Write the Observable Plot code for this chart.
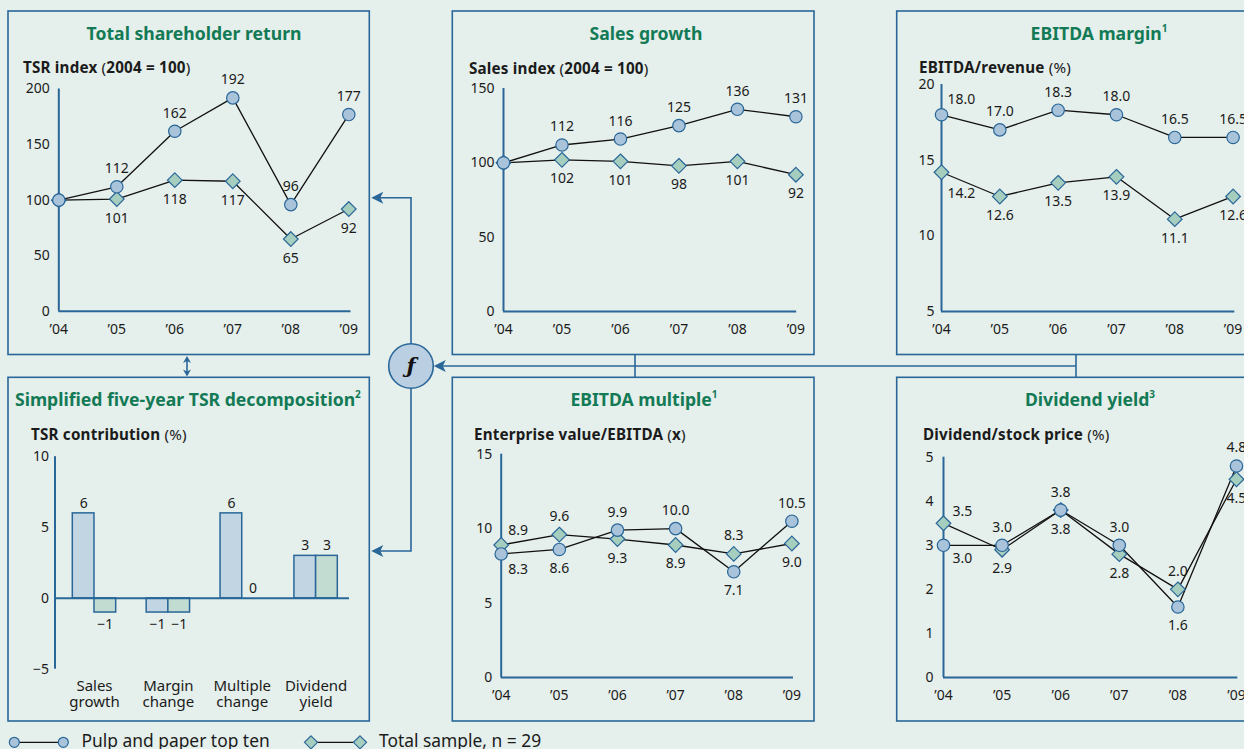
<!DOCTYPE html>
<html>
<head>
<meta charset="utf-8">
<script src="https://cdn.jsdelivr.net/npm/d3@7"></script>
<script src="https://cdn.jsdelivr.net/npm/@observablehq/plot@0.6"></script>
<style>
  html, body { margin: 0; padding: 0; background: #e5efeb; }
  #root { position: relative; width: 1244px; height: 749px; overflow: hidden; background: #e5efeb;
          font-family: "Noto Sans", "Open Sans", sans-serif; color: #1b1b1b; }
  .title { position: absolute; transform: translate(-50%, -50%); white-space: nowrap;
           font-weight: 700; font-size: 17.6px; color: #137a56; }
  .title.left { transform: translate(0, -50%); }
  .title sup { font-size: 10px; vertical-align: 8px; line-height: 0; }
  .sub { position: absolute; transform: translate(0, -50%); white-space: nowrap;
         font-weight: 700; font-size: 15.2px; letter-spacing: 0.2px; color: #1b1b1b; }
  .sub .n { font-weight: 400; }
  #root svg.plotsvg { position: absolute; }
</style>
</head>
<body>
<div id="root">
  <svg id="overlay" width="1244" height="749" style="position:absolute;left:0;top:0"></svg>
  <div class="title" style="left:194px;top:33px">Total shareholder return</div>
  <div class="title" style="left:646px;top:33px">Sales growth</div>
  <div class="title" style="left:1099px;top:33px">EBITDA margin<sup>1</sup></div>
  <div class="title left" style="left:15px;top:399px">Simplified five-year TSR decomposition<sup>2</sup></div>
  <div class="title" style="left:644px;top:399px">EBITDA multiple<sup>1</sup></div>
  <div class="title" style="left:1090px;top:399px">Dividend yield<sup>3</sup></div>
  <div class="sub" style="left:23px;top:67px">TSR index <span class="n">(</span>2004 = 100<span class="n">)</span></div>
  <div class="sub" style="left:469px;top:68px">Sales index <span class="n">(</span>2004 = 100<span class="n">)</span></div>
  <div class="sub" style="left:919px;top:67px">EBITDA/revenue <span class="n">(%)</span></div>
  <div class="sub" style="left:31px;top:434px">TSR contribution <span class="n">(%)</span></div>
  <div class="sub" style="left:474px;top:434px">Enterprise value/EBITDA <span class="n">(</span>x<span class="n">)</span></div>
  <div class="sub" style="left:923px;top:434px">Dividend/stock price <span class="n">(%)</span></div>
</div>
<script>
// ---------------- DATA ----------------
const years = [2004, 2005, 2006, 2007, 2008, 2009];
const tsrPulp = [100, 112, 162, 192, 96, 177];
const tsrTotal = [100, 101, 118, 117, 65, 92];
const salesPulp = [100, 112, 116, 125, 136, 131];
const salesTotal = [100, 102, 101, 98, 101, 92];
const marginPulp = [18.0, 17.0, 18.3, 18.0, 16.5, 16.5];
const marginTotal = [14.2, 12.6, 13.5, 13.9, 11.1, 12.6];
const multiplePulp = [8.3, 8.6, 9.9, 10.0, 7.1, 10.5];
const multipleTotal = [8.9, 9.6, 9.3, 8.9, 8.3, 9.0];
const dividendPulp = [3.0, 3.0, 3.8, 3.0, 1.6, 4.8];
const dividendTotal = [3.5, 2.9, 3.8, 2.8, 2.0, 4.5];
const decompCategories = ["Sales\ngrowth", "Margin\nchange", "Multiple\nchange", "Dividend\nyield"];
const decompPulp = [6, -1, 6, 3];
const decompTotal = [-1, -1, 0, 3];
const seriesNames = ["Pulp and paper top ten", "Total sample, n = 29"];

// ---------------- STYLE / LAYOUT ----------------
const BLUE = "#2a6799";
const CIRCLE_FILL = "#a9c3da";
const DIAMOND_FILL = "#a6cebf";
const BAR_PULP = "#c1d5e3";
const BAR_TOTAL = "#c2dcd2";
const INK = "#1b1b1b";
const FONT = '"Noto Sans", "Open Sans", sans-serif';
const root = document.getElementById("root");

const boxes = {
  tsr: [8, 11, 369.3, 354.5],
  sales: [452.3, 11, 814, 354.5],
  margin: [896.7, 11, 1258.4, 354.5],
  decomp: [8, 377.3, 369.3, 721],
  multiple: [452.3, 377.3, 814, 721],
  dividend: [896.7, 377.3, 1258.4, 721]
};

function place(svg, box) {
  svg.classList.add("plotsvg");
  svg.style.left = box[0] + "px";
  svg.style.top = box[1] + "px";
  root.appendChild(svg);
}

function linePanel(o) {
  const [bx0, by0, bx1, by1] = o.box;
  const W = bx1 - bx0, H = by1 - by0;
  const rows = years.map((year, i) => ({year, pulp: o.pulp[i], total: o.total[i], pp: o.pulpPos[i], tp: o.totalPos[i]}));
  const fmt = o.fmt;
  const off = Object.assign({a: [0, -18], b: [0, 19], ar: [19, -14], br: [19, 15]}, o.offsets || {});
  const labelMarks = [];
  for (const [code, [dx, dy]] of Object.entries(off)) {
    labelMarks.push(Plot.text(rows, {filter: d => d.pp === code, x: "year", y: "pulp", text: d => fmt(d.pulp), dx, dy, fill: INK, fontSize: 14}));
    labelMarks.push(Plot.text(rows, {filter: d => d.tp === code, x: "year", y: "total", text: d => fmt(d.total), dx, dy, fill: INK, fontSize: 14}));
  }
  const svg = Plot.plot({
    width: W, height: H,
    marginLeft: o.axisX - bx0, marginRight: bx1 - o.xEnd,
    marginTop: o.yTop - by0, marginBottom: by1 - o.yBot,
    style: {fontFamily: FONT, fontSize: "14px", color: INK, background: "transparent", overflow: "visible"},
    x: {domain: [2004, 2009], range: [o.axisX - bx0, o.xLast - bx0], ticks: years,
        tickFormat: d => "\u2019" + String(d).slice(2), tickSize: 0, tickPadding: 12.5, label: null},
    y: {domain: o.yDomain, ticks: o.yTicks, tickFormat: d3.format("d"), tickSize: 0, tickPadding: o.yPad ?? 9, label: null},
    marks: [
      Plot.ruleY([o.yDomain[0]], {stroke: BLUE, strokeWidth: 2}),
      Plot.ruleX([2004], {y1: o.yDomain[0], y2: o.yDomain[1], stroke: BLUE, strokeWidth: 2}),
      Plot.line(rows, {x: "year", y: "total", stroke: "#111", strokeWidth: 1.3}),
      Plot.line(rows, {x: "year", y: "pulp", stroke: "#111", strokeWidth: 1.3}),
      Plot.dot(rows, {x: "year", y: "total", symbol: "diamond2", r: 6.6, fill: DIAMOND_FILL, stroke: BLUE, strokeWidth: 1.2}),
      Plot.dot(rows, {x: "year", y: "pulp", r: 6.2, fill: CIRCLE_FILL, stroke: BLUE, strokeWidth: 1.2}),
      ...labelMarks
    ]
  });
  place(svg, o.box);
}

const f0 = d3.format("d");
const f1 = d3.format(".1f");

linePanel({box: boxes.tsr, pulp: tsrPulp, total: tsrTotal, fmt: f0,
  axisX: 58.3, xLast: 348.3, xEnd: 350.5, yTop: 88.5, yBot: 310.8, yDomain: [0, 200], yTicks: [0, 50, 100, 150, 200],
  pulpPos: [null, "a", "a", "a", "a", "a"], totalPos: [null, "b", "b", "b", "b", "b"]});

linePanel({box: boxes.sales, pulp: salesPulp, total: salesTotal, fmt: f0,
  axisX: 503.3, xLast: 795.7, xEnd: 796.5, yTop: 88, yBot: 311, yDomain: [0, 150], yTicks: [0, 50, 100, 150],
  pulpPos: [null, "a", "a", "a", "a", "a"], totalPos: [null, "b", "b", "b", "b", "b"]});

linePanel({box: boxes.margin, pulp: marginPulp, total: marginTotal, fmt: f1,
  axisX: 940.7, xLast: 1232.3, xEnd: 1234, yTop: 84, yBot: 311, yDomain: [5, 20], yTicks: [5, 10, 15, 20], yPad: 7,
  offsets: {ar: [20, -15], br: [20, 21]},
  pulpPos: ["ar", "a", "a", "a", "a", "a"], totalPos: ["br", "b", "b", "b", "b", "b"]});

linePanel({box: boxes.multiple, pulp: multiplePulp, total: multipleTotal, fmt: f1,
  axisX: 501, xLast: 791.7, xEnd: 793.3, yTop: 454, yBot: 677.3, yDomain: [0, 15], yTicks: [0, 5, 10, 15],
  offsets: {ar: [17, -14], br: [17, 16]},
  pulpPos: ["br", "b", "a", "a", "b", "a"], totalPos: ["ar", "a", "b", "b", "a", "b"]});

linePanel({box: boxes.dividend, pulp: dividendPulp, total: dividendTotal, fmt: f1,
  axisX: 942.7, xLast: 1235.7, xEnd: 1237, yTop: 457, yBot: 677.3, yDomain: [0, 5], yTicks: [0, 1, 2, 3, 4, 5], yPad: 10,
  offsets: {ar: [19, -12], br: [19, 13]},
  pulpPos: ["br", "a", "a", "a", "b", "a"], totalPos: ["ar", "b", "b", "b", "a", "b"]});

// ---------------- BAR PANEL ----------------
(function barPanel() {
  const box = boxes.decomp;
  const [bx0, by0, bx1, by1] = box;
  const W = bx1 - bx0, H = by1 - by0;
  const axisX = 54.5, xEnd = 349, yTop = 456.5, yBot = 669;
  const bandStart = 72.3 - bx0, bandEnd = 337.3 - bx0;
  const pin = 0.413, n = decompCategories.length;
  const step = (bandEnd - bandStart) / (n - pin);
  const bw = step * (1 - pin);
  const rows = decompCategories.map((cat, i) => ({cat, pulp: decompPulp[i], total: decompTotal[i]}));
  const fmt = d3.format("d");
  const svg = Plot.plot({
    width: W, height: H,
    marginLeft: axisX - bx0, marginRight: bx1 - xEnd, marginTop: yTop - by0, marginBottom: by1 - yBot,
    style: {fontFamily: FONT, fontSize: "14px", color: INK, background: "transparent", overflow: "visible"},
    x: {type: "band", domain: decompCategories, range: [bandStart, bandEnd], paddingInner: pin, paddingOuter: 0, round: false, axis: null},
    y: {domain: [-5, 10], ticks: [-5, 0, 5, 10], tickSize: 0, tickPadding: 6, label: null},
    marks: [
      Plot.barY(rows, {x: "cat", y: "pulp", insetRight: bw / 2, fill: BAR_PULP, stroke: BLUE, strokeWidth: 1.5}),
      Plot.barY(rows, {x: "cat", y: "total", insetLeft: bw / 2, fill: BAR_TOTAL, stroke: BLUE, strokeWidth: 1.5}),
      Plot.ruleY([0], {stroke: BLUE, strokeWidth: 2}),
      Plot.ruleX([decompCategories[0]], {y1: -5, y2: 10, dx: (axisX - bx0) - (bandStart + bw / 2), stroke: BLUE, strokeWidth: 2}),
      Plot.text(rows, {filter: d => d.pulp >= 0, x: "cat", y: "pulp", text: d => fmt(d.pulp), dx: -bw / 4, dy: -10, fill: INK, fontSize: 14}),
      Plot.text(rows, {filter: d => d.pulp < 0, x: "cat", y: "pulp", text: d => fmt(d.pulp), dx: -bw / 4, dy: 12, fill: INK, fontSize: 14}),
      Plot.text(rows, {filter: d => d.total >= 0, x: "cat", y: "total", text: d => fmt(d.total), dx: bw / 4, dy: -10, fill: INK, fontSize: 14}),
      Plot.text(rows, {filter: d => d.total < 0, x: "cat", y: "total", text: d => fmt(d.total), dx: bw / 4, dy: 12, fill: INK, fontSize: 14}),
      Plot.text(rows, {x: "cat", text: d => d.cat.split("\n")[0], frameAnchor: "bottom", lineAnchor: "middle", dy: 17, fill: INK, fontSize: 15}),
      Plot.text(rows, {x: "cat", text: d => d.cat.split("\n")[1], frameAnchor: "bottom", lineAnchor: "middle", dy: 33, fill: INK, fontSize: 15})
    ]
  });
  place(svg, box);
})();

// ---------------- OVERLAY: boxes, connectors, legend ----------------
(function overlay() {
  const s = d3.select("#overlay");
  for (const b of Object.values(boxes)) {
    s.append("rect").attr("x", b[0]).attr("y", b[1]).attr("width", b[2] - b[0]).attr("height", b[3] - b[1])
      .attr("fill", "none").attr("stroke", BLUE).attr("stroke-width", 1.6);
  }
  const line = (pts) => s.append("path").attr("d", d3.line()(pts)).attr("fill", "none").attr("stroke", BLUE).attr("stroke-width", 1.6);
  const headLeft = (x, y) => s.append("path").attr("d", `M${x},${y}L${x + 12},${y - 6}L${x + 9},${y}L${x + 12},${y + 6}Z`).attr("fill", BLUE);
  const headUp = (x, y) => s.append("path").attr("d", `M${x},${y}L${x - 4},${y + 7}L${x},${y + 5}L${x + 4},${y + 7}Z`).attr("fill", BLUE);
  const headDown = (x, y) => s.append("path").attr("d", `M${x},${y}L${x - 4},${y - 7}L${x},${y - 5}L${x + 4},${y - 7}Z`).attr("fill", BLUE);
  // f node
  const cx = 411, cy = 366, cr = 22.3;
  line([[cx, cy - cr], [cx, 197.7], [373, 197.7]]);
  headLeft(371.3, 197.7);
  line([[cx, cy + cr], [cx, 551], [373, 551]]);
  headLeft(371.3, 551);
  line([[cx + cr + 4, cy], [1076, cy]]);
  headLeft(cx + cr + 0.5, cy);
  line([[635, 355], [635, 377.3]]);
  line([[1076, 355], [1076, 377.3]]);
  // double arrow
  line([[187, 358], [187, 375]]);
  headUp(187, 356);
  headDown(187, 376.5);
  s.append("circle").attr("cx", cx).attr("cy", cy).attr("r", cr).attr("fill", "#bad0e2").attr("stroke", BLUE).attr("stroke-width", 1.6);
  s.append("text").attr("x", cx).attr("y", cy + 7).attr("text-anchor", "middle")
    .attr("font-family", '"DejaVu Serif", serif').attr("font-style", "italic").attr("font-weight", 700)
    .attr("font-size", 21).attr("fill", "#111").text("\u0192");
  // legend
  const ly = 742.3;
  s.append("line").attr("x1", 14.3).attr("x2", 63.3).attr("y1", ly).attr("y2", ly).attr("stroke", "#111").attr("stroke-width", 1.2);
  for (const x of [14.3, 63.3]) s.append("circle").attr("cx", x).attr("cy", ly).attr("r", 5).attr("fill", CIRCLE_FILL).attr("stroke", BLUE).attr("stroke-width", 1.2);
  s.append("text").attr("x", 81.5).attr("y", 747.3).attr("font-family", FONT).attr("font-size", 17.4).attr("fill", INK).text(seriesNames[0]);
  s.append("line").attr("x1", 311).attr("x2", 360).attr("y1", ly).attr("y2", ly).attr("stroke", "#111").attr("stroke-width", 1.2);
  for (const x of [311, 360]) s.append("path").attr("d", `M${x},${ly - 6.5}L${x + 6.5},${ly}L${x},${ly + 6.5}L${x - 6.5},${ly}Z`).attr("fill", DIAMOND_FILL).attr("stroke", BLUE).attr("stroke-width", 1.2);
  s.append("text").attr("x", 379).attr("y", 747.3).attr("font-family", FONT).attr("font-size", 17.4).attr("fill", INK).text(seriesNames[1]);
})();
</script>
</body>
</html>
